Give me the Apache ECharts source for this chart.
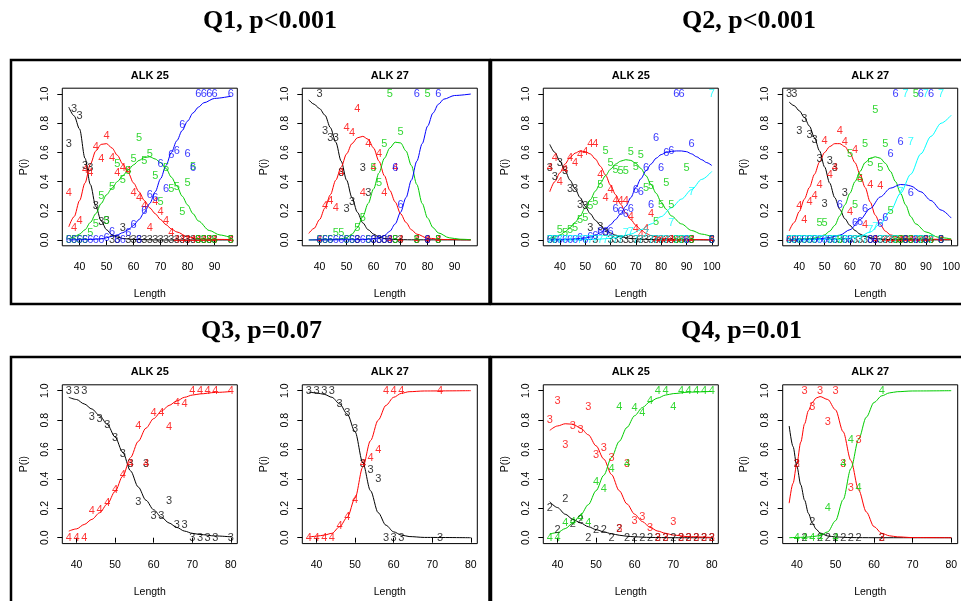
<!DOCTYPE html>
<html>
<head>
<meta charset="utf-8">
<script src="https://cdn.jsdelivr.net/npm/echarts@6/dist/echarts.min.js"></script>
<style>
html, body { margin: 0; padding: 0; background: #ffffff; }
#chart { width: 961px; height: 601px; }
</style>
</head>
<body>
<div id="chart"></div>
<script>
// ---------- tick labels ----------
const ticksQ1 = [40, 50, 60, 70, 80, 90];
const ticksQ2 = [40, 50, 60, 70, 80, 90, 100];
const ticksQ34 = [40, 50, 60, 70, 80];
const ticksP = [0, 0.2, 0.4, 0.6, 0.8, 1.0];

// ---------- Q1, ALK 25 : observed proportions by age ----------
const q1a25Obs3 = [[36,0.66],[38,0.90],[40,0.85],[42,0.51],[44,0.49],[46,0.23],[48,0.125],[50,0.13],[52,0],[54,0],[56,0.08],[58,0],[60,0],[62,0],[64,0],[66,0],[68,0],[70,0],[72,0],[74,0],[76,0],[78,0],[80,0],[82,0],[84,0],[86,0],[88,0],[90,0],[96,0]];
const q1a25Obs4 = [[36,0.32],[38,0.085],[40,0.13],[42,0.48],[44,0.46],[46,0.64],[48,0.555],[50,0.71],[52,0.56],[54,0.46],[56,0.49],[58,0.47],[60,0.32],[62,0.285],[64,0.23],[66,0.085],[68,0.26],[70,0.19],[72,0.13],[74,0.05],[76,0],[78,0],[80,0],[82,0],[84,0],[86,0],[88,0],[90,0],[96,0]];
const q1a25Obs5 = [[36,0],[38,0],[40,0],[42,0],[44,0.045],[46,0.11],[48,0.30],[50,0.13],[52,0.365],[54,0.52],[56,0.41],[58,0.47],[60,0.555],[62,0.70],[64,0.54],[66,0.59],[68,0.44],[70,0.26],[72,0.49],[74,0.35],[76,0.365],[78,0.19],[80,0.39],[82,0.50],[84,0],[86,0],[88,0],[90,0],[96,0]];
const q1a25Obs6 = [[36,0],[38,0],[40,0],[42,0],[44,0],[46,0],[48,0],[50,0.016],[52,0.057],[54,0],[56,0],[58,0.045],[60,0.10],[62,0],[64,0.20],[66,0.31],[68,0.29],[70,0.52],[72,0.35],[74,0.58],[76,0.61],[78,0.79],[80,0.59],[82,0.49],[84,1],[86,1],[88,1],[90,1],[96,1]];
// fitted curves
const q1a25Fit3 = [[36,0.91],[38,0.85],[40,0.76],[42,0.56],[44,0.38],[46,0.23],[48,0.13],[50,0.07],[52,0.035],[54,0.02],[56,0.01],[60,0.003],[70,0],[96,0]];
const q1a25Fit4 = [[36,0.09],[38,0.16],[40,0.27],[42,0.39],[44,0.52],[46,0.61],[48,0.655],[50,0.66],[52,0.63],[54,0.58],[56,0.52],[58,0.46],[60,0.39],[62,0.33],[64,0.27],[66,0.22],[68,0.18],[70,0.14],[72,0.105],[74,0.075],[76,0.055],[80,0.022],[84,0.008],[90,0.004],[96,0.003]];
const q1a25Fit5 = [[36,0.007],[38,0.02],[40,0.04],[42,0.07],[44,0.12],[46,0.18],[48,0.25],[50,0.31],[52,0.355],[54,0.40],[56,0.44],[58,0.48],[60,0.515],[62,0.545],[64,0.565],[66,0.57],[68,0.555],[70,0.53],[72,0.49],[74,0.43],[76,0.37],[78,0.30],[80,0.24],[82,0.18],[84,0.13],[88,0.065],[92,0.034],[96,0.016]];
const q1a25Fit6 = [[36,0],[44,0.003],[48,0.008],[50,0.015],[52,0.025],[54,0.035],[56,0.05],[58,0.07],[60,0.10],[62,0.14],[64,0.19],[66,0.25],[68,0.33],[70,0.42],[72,0.51],[74,0.60],[76,0.68],[78,0.75],[80,0.815],[82,0.87],[84,0.91],[86,0.94],[90,0.97],[96,0.985]];

// ---------- Q1, ALK 27 ----------
const q1a27Obs3 = [[40,1],[42,0.75],[44,0.70],[46,0.70],[48,0.46],[50,0.21],[52,0.26],[54,0],[56,0.49],[58,0.32],[60,0],[62,0],[64,0],[66,0],[68,0],[70,0],[76,0],[80,0],[84,0]];
const q1a27Obs4 = [[40,0],[42,0.235],[44,0.27],[46,0.22],[48,0.46],[50,0.77],[52,0.73],[54,0.90],[56,0.32],[58,0.66],[60,0.49],[62,0.59],[64,0.32],[66,0],[68,0.49],[70,0],[76,0],[80,0],[84,0]];
const q1a27Obs5 = [[40,0],[42,0],[44,0],[46,0.05],[48,0.05],[50,0],[52,0],[54,0.08],[56,0.15],[58,0],[60,0.49],[62,0.39],[64,0.66],[66,1],[68,0],[70,0.74],[76,0],[80,1],[84,0]];
const q1a27Obs6 = [[40,0],[42,0],[44,0],[46,0],[48,0],[50,0],[52,0],[54,0],[56,0],[58,0],[60,0],[62,0],[64,0],[66,0],[68,0.49],[70,0.24],[76,1],[80,0],[84,1]];
const q1a27Fit3 = [[36,0.96],[38,0.93],[40,0.90],[42,0.855],[44,0.77],[46,0.67],[48,0.54],[50,0.41],[52,0.29],[54,0.19],[56,0.117],[58,0.07],[60,0.04],[62,0.02],[64,0.01],[68,0.003],[74,0.001],[96,0]];
const q1a27Fit4 = [[36,0.045],[38,0.08],[40,0.14],[42,0.22],[44,0.31],[46,0.41],[48,0.50],[50,0.59],[52,0.66],[54,0.70],[56,0.71],[58,0.69],[60,0.63],[62,0.54],[64,0.44],[66,0.34],[68,0.26],[70,0.18],[72,0.12],[74,0.07],[76,0.04],[80,0.012],[86,0.003],[96,0.001]];
const q1a27Fit5 = [[36,0],[44,0.002],[48,0.008],[50,0.016],[52,0.04],[54,0.085],[56,0.16],[58,0.25],[60,0.35],[62,0.46],[64,0.56],[66,0.63],[68,0.67],[70,0.665],[72,0.61],[74,0.51],[76,0.38],[78,0.25],[80,0.15],[82,0.085],[84,0.048],[88,0.015],[92,0.005],[96,0.002]];
const q1a27Fit6 = [[36,0],[56,0.002],[60,0.008],[62,0.015],[64,0.03],[66,0.06],[68,0.11],[70,0.19],[72,0.29],[74,0.41],[76,0.54],[78,0.66],[80,0.78],[82,0.87],[84,0.93],[86,0.965],[90,0.99],[96,1.0]];

// ---------- Q2, ALK 25 ----------
const q2a25Obs3 = [[36,0.49],[38,0.43],[40,0.525],[42,0.47],[44,0.35],[46,0.35],[48,0.24],[50,0.23],[52,0.08],[54,0],[56,0.09],[58,0.045],[60,0],[62,0],[64,0],[66,0],[68,0],[70,0],[72,0],[74,0],[76,0],[78,0],[80,0],[82,0],[84,0],[86,0],[88,0],[90,0],[92,0],[100,0]];
const q2a25Obs4 = [[36,0.49],[38,0.56],[40,0.40],[42,0.48],[44,0.56],[46,0.53],[48,0.58],[50,0.60],[52,0.655],[54,0.655],[56,0.445],[58,0.29],[60,0.34],[62,0.27],[64,0.27],[66,0.27],[68,0.16],[70,0.075],[72,0.035],[74,0.075],[76,0.175],[78,0],[80,0],[82,0],[84,0],[86,0],[88,0],[90,0],[92,0],[100,0]];
const q2a25Obs5 = [[36,0],[38,0],[40,0.07],[42,0.05],[44,0.07],[46,0.08],[48,0.14],[50,0.15],[52,0.23],[54,0.26],[56,0.38],[58,0.61],[60,0.525],[62,0.48],[64,0.47],[66,0.47],[68,0.605],[70,0.50],[72,0.58],[74,0.355],[76,0.37],[78,0.125],[80,0.24],[82,0.39],[84,0.24],[86,0],[88,0],[90,0.49],[92,0],[100,0]];
const q2a25Obs6 = [[36,0],[38,0],[40,0],[42,0],[44,0],[46,0],[48,0.016],[50,0],[52,0.02],[54,0.03],[56,0.057],[58,0.057],[60,0.057],[62,0.21],[64,0.19],[66,0.175],[68,0.21],[70,0.34],[72,0.33],[74,0.49],[76,0.24],[78,0.70],[80,0.49],[82,0.595],[84,0.61],[86,1],[88,1],[90,0],[92,0.66],[100,0]];
const q2a25Obs7 = [[36,0],[38,0],[40,0],[42,0],[44,0],[46,0],[48,0],[50,0],[52,0],[54,0],[56,0],[58,0],[60,0],[62,0],[64,0],[66,0.045],[68,0.057],[70,0],[72,0],[74,0.04],[76,0],[78,0],[80,0],[82,0],[84,0.115],[86,0],[88,0],[90,0],[92,0.33],[100,1]];
const q2a25Fit3 = [[36,0.655],[38,0.60],[40,0.54],[42,0.475],[44,0.41],[46,0.35],[48,0.29],[50,0.23],[52,0.18],[54,0.135],[56,0.10],[58,0.07],[60,0.048],[62,0.033],[64,0.022],[68,0.01],[72,0.005],[80,0.001],[100,0]];
const q2a25Fit4 = [[36,0.33],[38,0.40],[40,0.46],[42,0.52],[44,0.565],[46,0.595],[48,0.61],[50,0.605],[52,0.59],[54,0.555],[56,0.505],[58,0.445],[60,0.375],[62,0.31],[64,0.245],[66,0.185],[68,0.14],[70,0.10],[72,0.07],[74,0.045],[76,0.03],[80,0.012],[86,0.004],[100,0.001]];
const q2a25Fit5 = [[36,0.011],[38,0.02],[40,0.034],[42,0.055],[44,0.085],[46,0.12],[48,0.165],[50,0.22],[52,0.275],[54,0.335],[56,0.39],[58,0.44],[60,0.485],[62,0.52],[64,0.54],[66,0.55],[68,0.545],[70,0.525],[72,0.49],[74,0.44],[76,0.38],[78,0.32],[80,0.26],[82,0.21],[84,0.165],[88,0.11],[92,0.065],[96,0.04],[100,0.023]];
const q2a25Fit6 = [[36,0],[44,0.004],[48,0.01],[52,0.02],[54,0.032],[56,0.05],[58,0.075],[60,0.105],[62,0.14],[64,0.18],[66,0.23],[68,0.29],[70,0.36],[72,0.42],[74,0.475],[76,0.52],[78,0.56],[80,0.585],[82,0.60],[84,0.607],[86,0.61],[88,0.61],[90,0.605],[92,0.59],[94,0.57],[96,0.55],[98,0.53],[100,0.51]];
const q2a25Fit7 = [[36,0],[50,0.002],[56,0.006],[60,0.012],[64,0.022],[68,0.04],[72,0.07],[76,0.11],[80,0.16],[84,0.22],[88,0.28],[92,0.345],[96,0.415],[100,0.47]];

// ---------- Q2, ALK 27 ----------
const q2a27Obs3 = [[36,1],[38,1],[40,0.75],[42,0.83],[44,0.72],[46,0.685],[48,0.555],[50,0.25],[52,0.54],[54,0.49],[56,0],[58,0.32],[60,0],[62,0],[64,0],[66,0],[68,0],[70,0],[72,0],[74,0],[76,0],[78,0],[80,0],[82,0],[84,0],[86,0],[88,0],[90,0],[92,0],[96,0]];
const q2a27Obs4 = [[36,0],[38,0],[40,0.235],[42,0.14],[44,0.26],[46,0.30],[48,0.38],[50,0.68],[52,0.445],[54,0.49],[56,0.75],[58,0.67],[60,0.19],[62,0.615],[64,0.42],[66,0.10],[68,0.38],[70,0],[72,0.37],[74,0],[76,0],[78,0],[80,0],[82,0],[84,0],[86,0],[88,0],[90,0],[92,0],[96,0]];
const q2a27Obs5 = [[36,0],[38,0],[40,0],[42,0],[44,0],[46,0],[48,0.115],[50,0.115],[52,0],[54,0],[56,0],[58,0],[60,0.59],[62,0.24],[64,0.42],[66,0.66],[68,0.525],[70,0.89],[72,0.49],[74,0.66],[76,0.20],[78,0],[80,0],[82,0],[84,0],[86,1],[88,0],[90,0],[92,0],[96,0]];
const q2a27Obs6 = [[36,0],[38,0],[40,0],[42,0],[44,0],[46,0],[48,0],[50,0],[52,0],[54,0],[56,0.24],[58,0],[60,0],[62,0.115],[64,0.125],[66,0.21],[68,0],[70,0],[72,0.107],[74,0.15],[76,0.59],[78,1],[80,0.67],[82,0],[84,0.32],[86,0],[88,1],[90,0],[92,1],[96,0]];
const q2a27Obs7 = [[36,0],[38,0],[40,0],[42,0],[44,0],[46,0],[48,0],[50,0],[52,0],[54,0],[56,0],[58,0],[60,0],[62,0],[64,0],[66,0],[68,0.07],[70,0.09],[72,0],[74,0],[76,0],[78,0],[80,0.33],[82,1],[84,0.67],[86,0],[88,0],[90,1],[92,0],[96,1]];
const q2a27Fit3 = [[36,0.945],[38,0.92],[40,0.885],[42,0.84],[44,0.78],[46,0.70],[48,0.61],[50,0.50],[52,0.39],[54,0.29],[56,0.21],[58,0.145],[60,0.10],[62,0.065],[64,0.04],[66,0.024],[70,0.008],[76,0.002],[100,0]];
const q2a27Fit4 = [[36,0.062],[38,0.12],[40,0.195],[42,0.28],[44,0.36],[46,0.45],[48,0.535],[50,0.60],[52,0.64],[54,0.66],[56,0.66],[58,0.64],[60,0.595],[62,0.53],[64,0.45],[66,0.36],[68,0.26],[70,0.17],[72,0.105],[74,0.06],[76,0.035],[80,0.012],[86,0.005],[100,0.004]];
const q2a27Fit5 = [[36,0.002],[44,0.008],[48,0.02],[50,0.035],[52,0.06],[54,0.10],[56,0.165],[58,0.24],[60,0.32],[62,0.40],[64,0.47],[66,0.53],[68,0.56],[70,0.57],[72,0.56],[74,0.525],[76,0.47],[78,0.40],[80,0.32],[82,0.24],[84,0.16],[86,0.11],[90,0.055],[95,0.018],[100,0.007]];
const q2a27Fit6 = [[36,0],[44,0.003],[48,0.008],[52,0.017],[56,0.033],[60,0.07],[64,0.14],[68,0.215],[72,0.295],[76,0.355],[80,0.38],[82,0.378],[84,0.37],[88,0.33],[92,0.27],[96,0.205],[100,0.15]];
const q2a27Fit7 = [[36,0],[56,0.005],[60,0.012],[64,0.025],[68,0.055],[72,0.11],[76,0.2],[80,0.32],[84,0.45],[88,0.59],[92,0.71],[96,0.80],[100,0.855]];

// ---------- Q3, ALK 25 ----------
const q3a25Obs3 = [[38,1],[40,1],[42,1],[44,0.82],[46,0.81],[48,0.765],[50,0.675],[52,0.57],[54,0.5],[56,0.24],[58,0.5],[60,0.15],[62,0.15],[64,0.25],[66,0.085],[68,0.09],[70,0],[72,0],[74,0],[76,0],[80,0]];
const q3a25Obs4 = [[38,0],[40,0],[42,0],[44,0.18],[46,0.19],[48,0.235],[50,0.325],[52,0.43],[54,0.5],[56,0.76],[58,0.5],[60,0.85],[62,0.85],[64,0.75],[66,0.915],[68,0.91],[70,1],[72,1],[74,1],[76,1],[80,1]];
const q3a25Fit3 = [[38,0.955],[40,0.94],[42,0.91],[44,0.875],[46,0.83],[48,0.77],[50,0.685],[52,0.58],[54,0.455],[56,0.345],[58,0.255],[60,0.19],[62,0.14],[64,0.10],[66,0.07],[68,0.045],[70,0.03],[72,0.022],[76,0.012],[80,0.006]];
const q3a25Fit4 = [[38,0.045],[40,0.06],[42,0.09],[44,0.125],[46,0.17],[48,0.23],[50,0.315],[52,0.42],[54,0.545],[56,0.655],[58,0.745],[60,0.81],[62,0.86],[64,0.90],[66,0.93],[68,0.955],[70,0.97],[72,0.978],[76,0.988],[80,0.994]];

// ---------- Q3, ALK 27 ----------
const q3a27Obs3 = [[38,1],[40,1],[42,1],[44,1],[46,0.91],[48,0.85],[50,0.74],[52,0.5],[54,0.46],[56,0.4],[58,0],[60,0],[62,0],[72,0]];
const q3a27Obs4 = [[38,0],[40,0],[42,0],[44,0],[46,0.08],[48,0.14],[50,0.255],[52,0.5],[54,0.54],[56,0.6],[58,1],[60,1],[62,1],[72,1]];
const q3a27Fit3 = [[38,0.99],[40,0.985],[42,0.975],[44,0.955],[46,0.91],[48,0.84],[50,0.72],[52,0.51],[54,0.32],[56,0.17],[58,0.085],[60,0.04],[62,0.018],[64,0.008],[68,0.002],[80,0]];
const q3a27Fit4 = [[38,0.005],[40,0.01],[42,0.018],[44,0.03],[46,0.075],[48,0.14],[50,0.27],[52,0.48],[54,0.66],[56,0.80],[58,0.90],[60,0.955],[62,0.982],[64,0.993],[68,0.998],[80,1.0]];

// ---------- Q4, ALK 25 ----------
const q4a25Obs2 = [[38,0.2],[40,0.055],[42,0.265],[44,0.095],[46,0.12],[48,0],[50,0.055],[52,0.055],[54,0],[56,0.06],[58,0],[60,0],[62,0],[64,0],[66,0],[68,0],[70,0],[72,0],[74,0],[76,0],[78,0],[80,0]];
const q4a25Obs3 = [[38,0.8],[40,0.93],[42,0.63],[44,0.76],[46,0.73],[48,0.89],[50,0.565],[52,0.61],[54,0.54],[56,0.06],[58,0.5],[60,0.115],[62,0.14],[64,0.067],[66,0],[68,0],[70,0.11],[72,0],[74,0],[76,0],[78,0],[80,0]];
const q4a25Obs4 = [[38,0],[40,0],[42,0.1],[44,0.11],[46,0.135],[48,0.1],[50,0.38],[52,0.33],[54,0.465],[56,0.89],[58,0.5],[60,0.885],[62,0.85],[64,0.93],[66,1],[68,1],[70,0.89],[72,1],[74,1],[76,1],[78,1],[80,1]];
const q4a25Fit2 = [[38,0.245],[40,0.205],[42,0.16],[44,0.125],[46,0.10],[48,0.075],[50,0.055],[52,0.04],[54,0.027],[56,0.017],[58,0.01],[60,0.006],[64,0.002],[70,0],[80,0]];
const q4a25Fit3 = [[38,0.73],[40,0.76],[42,0.775],[44,0.772],[46,0.745],[48,0.70],[50,0.625],[52,0.535],[54,0.43],[56,0.32],[58,0.23],[60,0.16],[62,0.11],[64,0.07],[66,0.045],[68,0.03],[70,0.018],[74,0.007],[80,0.002]];
const q4a25Fit4 = [[38,0.025],[40,0.035],[42,0.062],[44,0.10],[46,0.155],[48,0.225],[50,0.32],[52,0.425],[54,0.545],[56,0.655],[58,0.75],[60,0.83],[62,0.885],[64,0.925],[66,0.95],[68,0.97],[70,0.98],[74,0.99],[80,0.995]];

// ---------- Q4, ALK 27 ----------
const q4a27Obs2 = [[40,0.5],[42,0],[44,0.11],[46,0],[48,0],[50,0],[52,0],[54,0],[56,0],[62,0]];
const q4a27Obs3 = [[40,0.5],[42,1],[44,0.89],[46,1],[48,0.79],[50,1],[52,0.5],[54,0.335],[56,0.665],[62,0]];
const q4a27Obs4 = [[40,0],[42,0],[44,0],[46,0],[48,0.2],[50,0],[52,0.5],[54,0.665],[56,0.335],[62,1]];
const q4a27Fit2 = [[38,0.76],[39,0.62],[40,0.485],[41,0.36],[42,0.255],[43,0.165],[44,0.10],[45,0.058],[46,0.032],[48,0.012],[50,0.005],[54,0.001],[60,0],[70,0],[80,0]];
const q4a27Fit3 = [[38,0.235],[39,0.37],[40,0.505],[41,0.65],[42,0.775],[43,0.865],[44,0.92],[45,0.95],[46,0.96],[48,0.94],[50,0.87],[52,0.72],[54,0.525],[56,0.325],[58,0.175],[60,0.075],[62,0.03],[64,0.013],[66,0.006],[70,0.001],[80,0]];
const q4a27Fit4 = [[38,0],[42,0.003],[44,0.007],[46,0.015],[48,0.04],[50,0.115],[52,0.26],[54,0.47],[56,0.67],[58,0.82],[60,0.92],[62,0.965],[64,0.985],[66,0.993],[70,0.998],[80,1.0]];

// ---------- drawing ----------
const SANS = '"Liberation Sans", Arial, Helvetica, sans-serif';
const SERIF = '"Liberation Serif", "Times New Roman", serif';
// R default palette order: black, red, green3, blue, cyan
const PALETTE = ['#000000', '#FF0000', '#00CD00', '#0000FF', '#00FFFF'];

const colLeft = [62.3, 302.3, 543.3, 782.7];
const rowTop = [88.2, 384.8];
const rowHeight = [157.6, 158.8];
const plotWidth = 175;

const panels = [
  { title: 'ALK 25', col: 0, row: 0, xr: [33.6, 98.4], ticks: ticksQ1, ages: ['3','4','5','6'],
    obs: [q1a25Obs3, q1a25Obs4, q1a25Obs5, q1a25Obs6], fit: [q1a25Fit3, q1a25Fit4, q1a25Fit5, q1a25Fit6] },
  { title: 'ALK 27', col: 1, row: 0, xr: [33.6, 98.4], ticks: ticksQ1, ages: ['3','4','5','6'],
    obs: [q1a27Obs3, q1a27Obs4, q1a27Obs5, q1a27Obs6], fit: [q1a27Fit3, q1a27Fit4, q1a27Fit5, q1a27Fit6] },
  { title: 'ALK 25', col: 2, row: 0, xr: [33.44, 102.56], ticks: ticksQ2, ages: ['3','4','5','6','7'],
    obs: [q2a25Obs3, q2a25Obs4, q2a25Obs5, q2a25Obs6, q2a25Obs7], fit: [q2a25Fit3, q2a25Fit4, q2a25Fit5, q2a25Fit6, q2a25Fit7] },
  { title: 'ALK 27', col: 3, row: 0, xr: [33.44, 102.56], ticks: ticksQ2, ages: ['3','4','5','6','7'],
    obs: [q2a27Obs3, q2a27Obs4, q2a27Obs5, q2a27Obs6, q2a27Obs7], fit: [q2a27Fit3, q2a27Fit4, q2a27Fit5, q2a27Fit6, q2a27Fit7] },
  { title: 'ALK 25', col: 0, row: 1, xr: [36.32, 81.68], ticks: ticksQ34, ages: ['3','4'],
    obs: [q3a25Obs3, q3a25Obs4], fit: [q3a25Fit3, q3a25Fit4] },
  { title: 'ALK 27', col: 1, row: 1, xr: [36.32, 81.68], ticks: ticksQ34, ages: ['3','4'],
    obs: [q3a27Obs3, q3a27Obs4], fit: [q3a27Fit3, q3a27Fit4] },
  { title: 'ALK 25', col: 2, row: 1, xr: [36.32, 81.68], ticks: ticksQ34, ages: ['2','3','4'],
    obs: [q4a25Obs2, q4a25Obs3, q4a25Obs4], fit: [q4a25Fit2, q4a25Fit3, q4a25Fit4] },
  { title: 'ALK 27', col: 3, row: 1, xr: [36.32, 81.68], ticks: ticksQ34, ages: ['2','3','4'],
    obs: [q4a27Obs2, q4a27Obs3, q4a27Obs4], fit: [q4a27Fit2, q4a27Fit3, q4a27Fit4] }
];

const grids = [], xAxes = [], yAxes = [], series = [];
const graphics = [];

panels.forEach((p, i) => {
  const left = colLeft[p.col], top = rowTop[p.row], height = rowHeight[p.row];
  grids.push({
    left: left, top: top, width: plotWidth, height: height,
    show: true, borderColor: '#000', borderWidth: 1, backgroundColor: 'transparent',
    containLabel: false, outerBoundsMode: 'none'
  });
  xAxes.push({
    gridIndex: i, type: 'value', min: p.xr[0], max: p.xr[1],
    axisLine: { show: false },
    axisTick: { show: true, length: 5, lineStyle: { color: '#000', width: 1 }, customValues: p.ticks },
    axisLabel: { customValues: p.ticks, margin: 16, fontSize: 10.5, color: '#000', fontFamily: SANS },
    splitLine: { show: false },
    name: 'Length', nameLocation: 'middle', nameGap: 43,
    nameTextStyle: { fontSize: 10.5, color: '#000', fontFamily: SANS }
  });
  yAxes.push({
    gridIndex: i, type: 'value', min: -0.04, max: 1.04,
    axisLine: { show: false },
    axisTick: { show: true, length: 5, lineStyle: { color: '#000', width: 1 }, customValues: ticksP },
    axisLabel: { customValues: ticksP, rotate: 90, margin: 12, fontSize: 10.5, color: '#000', fontFamily: SANS,
      formatter: v => Number(v).toFixed(1) },
    splitLine: { show: false },
    name: 'P(i)', nameLocation: 'middle', nameGap: 33, nameRotate: 90,
    nameTextStyle: { fontSize: 10.5, color: '#000', fontFamily: SANS }
  });
  // panel heading
  graphics.push({
    type: 'text', x: left + plotWidth / 2, y: top - 12.5, z: 10,
    style: { text: p.title, font: 'bold 11px ' + SANS, fill: '#000', textAlign: 'center', textVerticalAlign: 'middle' }
  });
  p.ages.forEach((age, j) => {
    const color = PALETTE[j];
    series.push({
      type: 'line', xAxisIndex: i, yAxisIndex: i, data: p.fit[j],
      smooth: 0.3, smoothMonotone: 'x', showSymbol: false, symbol: 'none', silent: true,
      lineStyle: { color: color, width: 1 }, itemStyle: { color: color }, z: 2
    });
  });
  p.ages.forEach((age, j) => {
    const color = PALETTE[j];
    series.push({
      type: 'scatter', xAxisIndex: i, yAxisIndex: i, data: p.obs[j],
      symbol: 'circle', symbolSize: 1, silent: true, clip: false,
      itemStyle: { color: 'rgba(0,0,0,0)' },
      label: { show: true, position: 'inside', formatter: age, color: color,
        fontSize: 11, fontFamily: SANS, offset: [0, 1] },
      labelLayout: { hideOverlap: false },
      z: 3
    });
  });
});

// framed blocks around each pair of plots
const frame = (x, y, w, h) => ({
  type: 'rect', shape: { x: x, y: y, width: w, height: h }, z: 1,
  style: { fill: 'none', stroke: '#000', lineWidth: 2.5 }
});
graphics.push(frame(11, 60, 478.5, 244));
graphics.push(frame(491, 60, 480, 244));
graphics.push(frame(11, 357, 478.5, 260));
graphics.push(frame(491, 357, 480, 260));

// block headings
const heading = (text, x, y) => ({
  type: 'text', x: x, y: y, z: 10,
  style: { text: text, font: 'bold 26px ' + SERIF, fill: '#000', textAlign: 'left', textVerticalAlign: 'middle' }
});
graphics.push(heading('Q1, p<0.001', 203, 21));
graphics.push(heading('Q2, p<0.001', 682, 21));
graphics.push(heading('Q3, p=0.07', 201, 331));
graphics.push(heading('Q4, p=0.01', 681, 331));

const chart = echarts.init(document.getElementById('chart'), null, { renderer: 'canvas' });
chart.setOption({
  animation: false,
  backgroundColor: '#ffffff',
  grid: grids,
  xAxis: xAxes,
  yAxis: yAxes,
  series: series,
  graphic: graphics
});
</script>
</body>
</html>
